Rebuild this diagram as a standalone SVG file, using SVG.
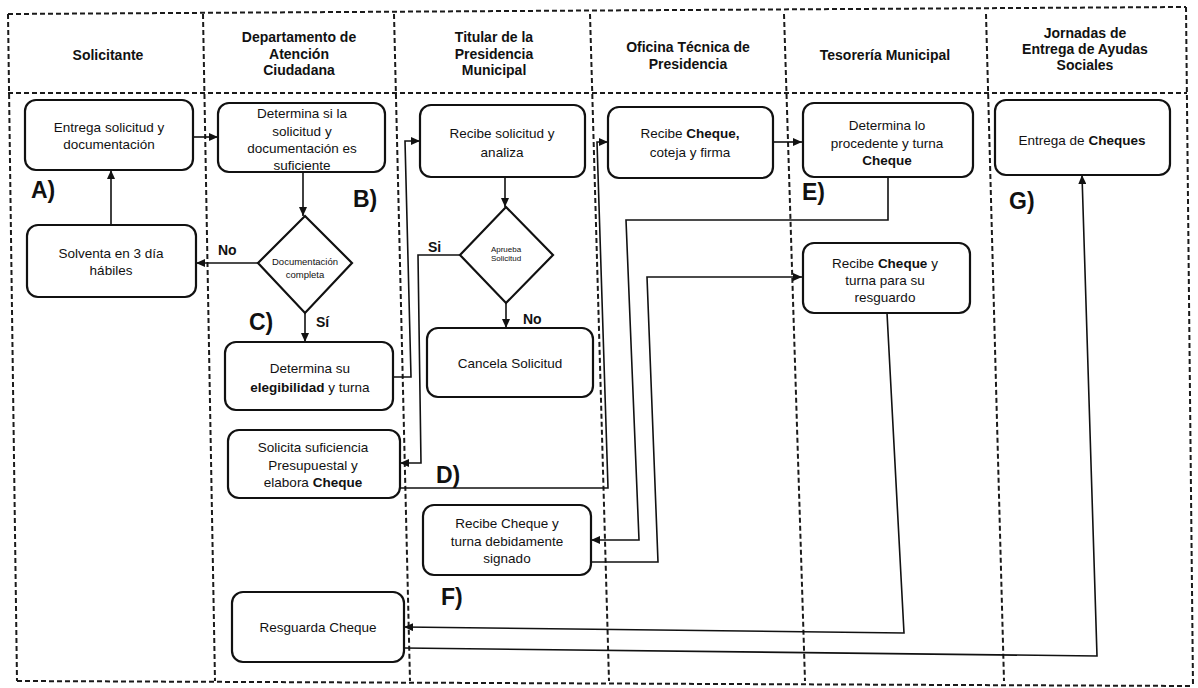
<svg xmlns="http://www.w3.org/2000/svg" width="1198" height="688" viewBox="0 0 1198 688">
<defs>
<style>
.lane{fill:none;stroke:#1a1a1a;stroke-width:2;stroke-dasharray:5 3}
.box{fill:#fff;stroke:#111;stroke-width:2.2}
.con{fill:none;stroke:#111;stroke-width:1.6}
.hd{font-family:"Liberation Sans",Arial,sans-serif;font-size:14px;font-weight:bold;fill:#111;text-anchor:middle}
.tx{font-family:"Liberation Sans",Arial,sans-serif;font-size:13.5px;fill:#111;text-anchor:middle}
.sm{font-family:"Liberation Sans",Arial,sans-serif;font-size:9.5px;fill:#111;text-anchor:middle}
.xs{font-family:"Liberation Sans",Arial,sans-serif;font-size:8px;fill:#111;text-anchor:middle}
.lb{font-family:"Liberation Sans",Arial,sans-serif;font-size:23px;font-weight:bold;fill:#111}
.yn{font-family:"Liberation Sans",Arial,sans-serif;font-size:14px;font-weight:bold;fill:#111}
.b{font-weight:bold}
</style>
<marker id="arr" markerUnits="userSpaceOnUse" markerWidth="9" markerHeight="8" refX="9" refY="4" orient="auto">
<path d="M0,0 L9,4 L0,8 z" fill="#111"/>
</marker>
</defs>
<rect x="0" y="0" width="1198" height="688" fill="#fff"/>

<g id="lanes">
<polyline class="lane" points="8,14 1186,7"/>
<polyline class="lane" points="8,93 1187,93"/>
<polyline class="lane" points="17,681 1193,686"/>
<polyline class="lane" points="8,14 17,681"/>
<polyline class="lane" points="203,14 215,681"/>
<polyline class="lane" points="394,14 410,681"/>
<polyline class="lane" points="590,14 609,681"/>
<polyline class="lane" points="784,14 805,681"/>
<polyline class="lane" points="986,14 1004,681"/>
<polyline class="lane" points="1186,7 1193,686"/>
</g>

<g id="headers">
<text class="hd" x="108" y="60">Solicitante</text>
<text class="hd" x="299" y="42">Departamento de</text>
<text class="hd" x="299" y="59">Atención</text>
<text class="hd" x="299" y="75">Ciudadana</text>
<text class="hd" x="494" y="42">Titular de la</text>
<text class="hd" x="494" y="59">Presidencia</text>
<text class="hd" x="494" y="75">Municipal</text>
<text class="hd" x="688" y="52">Oficina Técnica de</text>
<text class="hd" x="688" y="69">Presidencia</text>
<text class="hd" x="885" y="60">Tesorería Municipal</text>
<text class="hd" x="1085" y="38">Jornadas de</text>
<text class="hd" x="1085" y="54">Entrega de Ayudas</text>
<text class="hd" x="1085" y="70">Sociales</text>
</g>

<g id="connectors">
<polyline class="con" points="193,137 218,137" marker-end="url(#arr)"/>
<polyline class="con" points="111,225 111,170" marker-end="url(#arr)"/>
<polyline class="con" points="303,172 303,216" marker-end="url(#arr)"/>
<polyline class="con" points="258,263 196,263" marker-end="url(#arr)"/>
<polyline class="con" points="305,313 305,342" marker-end="url(#arr)"/>
<polyline class="con" points="393,377 411,377 405,141 420,141" marker-end="url(#arr)"/>
<polyline class="con" points="505,177 505,207" marker-end="url(#arr)"/>
<polyline class="con" points="460,255 418,255 421,463 400,463" marker-end="url(#arr)"/>
<polyline class="con" points="506,303 506,328" marker-end="url(#arr)"/>
<polyline class="con" points="400,488 608,488 597,142 608,142" marker-end="url(#arr)"/>
<polyline class="con" points="773,142 802,142" marker-end="url(#arr)"/>
<polyline class="con" points="888,177 888,220 626,220 639,540 591,540" marker-end="url(#arr)"/>
<polyline class="con" points="591,562 658,562 647,277 802,277" marker-end="url(#arr)"/>
<polyline class="con" points="887,313 904,633 404,627" marker-end="url(#arr)"/>
<polyline class="con" points="404,648 1097,656 1082,175" marker-end="url(#arr)"/>
</g>

<g id="n-entrega">
<rect class="box" x="25" y="100" width="168" height="70" rx="11"/>
<text class="tx" x="109" y="132">Entrega solicitud y</text>
<text class="tx" x="109" y="149">documentación</text>
</g>
<g id="n-solventa">
<rect class="box" x="27" y="225" width="169" height="72" rx="11"/>
<text class="tx" x="111" y="258">Solventa en 3 día</text>
<text class="tx" x="111" y="275">hábiles</text>
</g>
<g id="n-determina">
<rect class="box" x="218" y="103" width="167" height="69" rx="11"/>
<text class="tx" x="302" y="118">Determina si la</text>
<text class="tx" x="302" y="136">solicitud y</text>
<text class="tx" x="302" y="153">documentación es</text>
<text class="tx" x="302" y="170">suficiente</text>
</g>
<g id="n-doc">
<polygon class="box" points="305,216 352,263 305,313 258,263"/>
<text class="sm" x="305" y="265">Documentación</text>
<text class="sm" x="305" y="278">completa</text>
</g>
<g id="n-eleg">
<rect class="box" x="225" y="342" width="168" height="68" rx="11"/>
<text class="tx" x="310" y="373">Determina su</text>
<text class="tx" x="310" y="392"><tspan class="b">elegibilidad</tspan> y turna</text>
</g>
<g id="n-solicita">
<rect class="box" x="228" y="430" width="172" height="68" rx="11"/>
<text class="tx" x="313" y="452">Solicita suficiencia</text>
<text class="tx" x="313" y="470">Presupuestal y</text>
<text class="tx" x="313" y="487">elabora <tspan class="b">Cheque</tspan></text>
</g>
<g id="n-resguarda">
<rect class="box" x="232" y="592" width="172" height="70" rx="11"/>
<text class="tx" x="318" y="632">Resguarda Cheque</text>
</g>
<g id="n-recibe-sol">
<rect class="box" x="420" y="105" width="165" height="72" rx="11"/>
<text class="tx" x="502" y="138">Recibe solicitud y</text>
<text class="tx" x="502" y="157">analiza</text>
</g>
<g id="n-aprueba">
<polygon class="box" points="506,207 553,255 506,303 460,255"/>
<text class="xs" x="506" y="252">Aprueba</text>
<text class="xs" x="506" y="261">Solicitud</text>
</g>
<g id="n-cancela">
<rect class="box" x="427" y="328" width="166" height="69" rx="11"/>
<text class="tx" x="510" y="368">Cancela Solicitud</text>
</g>
<g id="n-firmado">
<rect class="box" x="423" y="505" width="168" height="70" rx="11"/>
<text class="tx" x="507" y="528">Recibe Cheque y</text>
<text class="tx" x="507" y="546">turna debidamente</text>
<text class="tx" x="507" y="563">signado</text>
</g>
<g id="n-coteja">
<rect class="box" x="608" y="107" width="165" height="71" rx="11"/>
<text class="tx" x="690" y="138">Recibe <tspan class="b">Cheque,</tspan></text>
<text class="tx" x="690" y="157">coteja y firma</text>
</g>
<g id="n-procedente">
<rect class="box" x="803" y="103" width="170" height="74" rx="11"/>
<text class="tx" x="887" y="130">Determina lo</text>
<text class="tx" x="887" y="148">procedente y turna</text>
<text class="tx b" x="887" y="165">Cheque</text>
</g>
<g id="n-resguardo">
<rect class="box" x="803" y="243" width="167" height="70" rx="11"/>
<text class="tx" x="885" y="268">Recibe <tspan class="b">Cheque</tspan> y</text>
<text class="tx" x="885" y="285">turna para su</text>
<text class="tx" x="885" y="302">resguardo</text>
</g>
<g id="n-entrega-cheques">
<rect class="box" x="995" y="100" width="175" height="75" rx="11"/>
<text class="tx" x="1082" y="145">Entrega de <tspan class="b">Cheques</tspan></text>
</g>

<g id="labels">
<text class="lb" x="31" y="198">A)</text>
<text class="lb" x="353" y="207">B)</text>
<text class="lb" x="249" y="330">C)</text>
<text class="lb" x="436" y="483">D)</text>
<text class="lb" x="802" y="200">E)</text>
<text class="lb" x="441" y="605">F)</text>
<text class="lb" x="1009" y="209">G)</text>
<text class="yn" x="218" y="255">No</text>
<text class="yn" x="316" y="327">Sí</text>
<text class="yn" x="428" y="252">Si</text>
<text class="yn" x="523" y="324">No</text>
</g>
</svg>
